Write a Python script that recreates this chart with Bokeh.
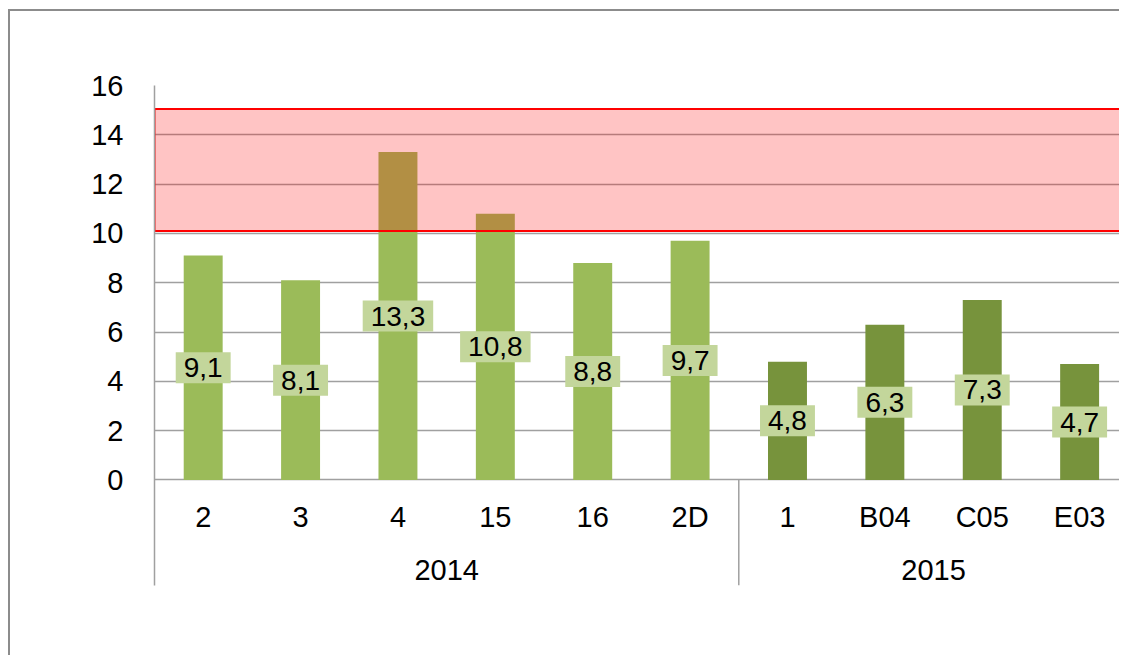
import math
from bokeh.plotting import figure
from bokeh.models import Range1d, FixedTicker, ColumnDataSource, Label
from bokeh.core.properties import value
from bokeh.embed import file_html
from bokeh.resources import INLINE

# ---- data ----
ids = ["2", "3", "4", "15", "16", "2D", "1", "B04", "C05", "E03"]
years = ["2014", "2014", "2014", "2014", "2014", "2014", "2015", "2015", "2015", "2015"]
values = [9.1, 8.1, 13.3, 10.8, 8.8, 9.7, 4.8, 6.3, 7.3, 4.7]
year_colors = {"2014": "#9BBB59", "2015": "#77933C"}
band_low = 10.1
band_high = 15.05
y_ticks = [0, 2, 4, 6, 8, 10, 12, 14, 16]

FONT = "Liberation Sans"

x = [i + 0.5 for i in range(len(ids))]
labels = [f"{v:.1f}".replace(".", ",") for v in values]
src = ColumnDataSource(dict(
    x=x, top=values, mid=[v / 2 for v in values], lab=labels, ids=ids,
    color=[year_colors[y] for y in years],
))

group_names = []
for y in years:
    if y not in group_names:
        group_names.append(y)
group_pos = []
group_edges = []
for g in group_names:
    idx = [i for i, y in enumerate(years) if y == g]
    group_pos.append((idx[0] + idx[-1] + 1) / 2)
    group_edges.append(idx[-1] + 1)

y_min = -4.28
p = figure(width=1111, height=646, output_backend="svg", toolbar_location=None,
           x_range=Range1d(0, 9.93), y_range=Range1d(y_min, 16),
           min_border_left=144, min_border_right=0, min_border_top=74, min_border_bottom=72)
p.styles = {"border-top": "2px solid #8C8C8C", "border-left": "2px solid #8C8C8C",
            "margin-left": "8px", "margin-top": "9px"}
p.outline_line_color = None
p.background_fill_color = "white"
p.border_fill_color = "white"

p.xaxis.visible = False
p.xgrid.visible = False
p.yaxis.ticker = FixedTicker(ticks=y_ticks)
p.ygrid.ticker = FixedTicker(ticks=y_ticks)
p.ygrid.grid_line_color = "#A0A0A0"
p.ygrid.grid_line_width = 1.5
p.yaxis.axis_line_color = "#A0A0A0"
p.yaxis.axis_line_width = 1.5
p.yaxis.major_tick_line_color = None
p.yaxis.minor_tick_line_color = None
p.yaxis.major_label_text_font = FONT
p.yaxis.major_label_text_font_size = "29px"
p.yaxis.major_label_text_color = "black"
p.yaxis.major_label_standoff = 25

# bars
p.vbar(x="x", top="top", bottom=0, width=0.4, fill_color="color", line_color=None, source=src)

# red band (drawn over bars)
p.quad(left=0, right=10.5, bottom=band_low, top=band_high,
       fill_color="#FF0000", fill_alpha=0.23, line_color="#FF0000", line_width=2)

# data labels
p.text(x="x", y="mid", text="lab", source=src, text_font=value(FONT), text_font_size="28px",
       text_align="center", text_baseline="middle", text_color="black",
       background_fill_color="#C3D69B", padding=dict(x=8, y=6))

# category labels
p.text(x="x", y=-1.52, text="ids", source=src, text_font=value(FONT), text_font_size="29px",
       text_align="center", text_baseline="middle", text_color="black")
# group labels
p.text(x=group_pos, y=[-3.67] * len(group_pos), text=group_names, text_font=value(FONT),
       text_font_size="29px", text_align="center", text_baseline="middle", text_color="black")
# group separators
p.segment(x0=group_edges, y0=[0] * len(group_edges), x1=group_edges, y1=[y_min] * len(group_edges),
          line_color="#A0A0A0", line_width=1.5)

# axis title
p.add_layout(Label(x=-0.85, y=8, text="Élongation (mm)", angle=math.pi / 2,
                   text_font=FONT, text_font_size="28px", text_align="center",
                   text_baseline="middle", text_color="black"))

open("out.html", "w").write(file_html(p, INLINE))
